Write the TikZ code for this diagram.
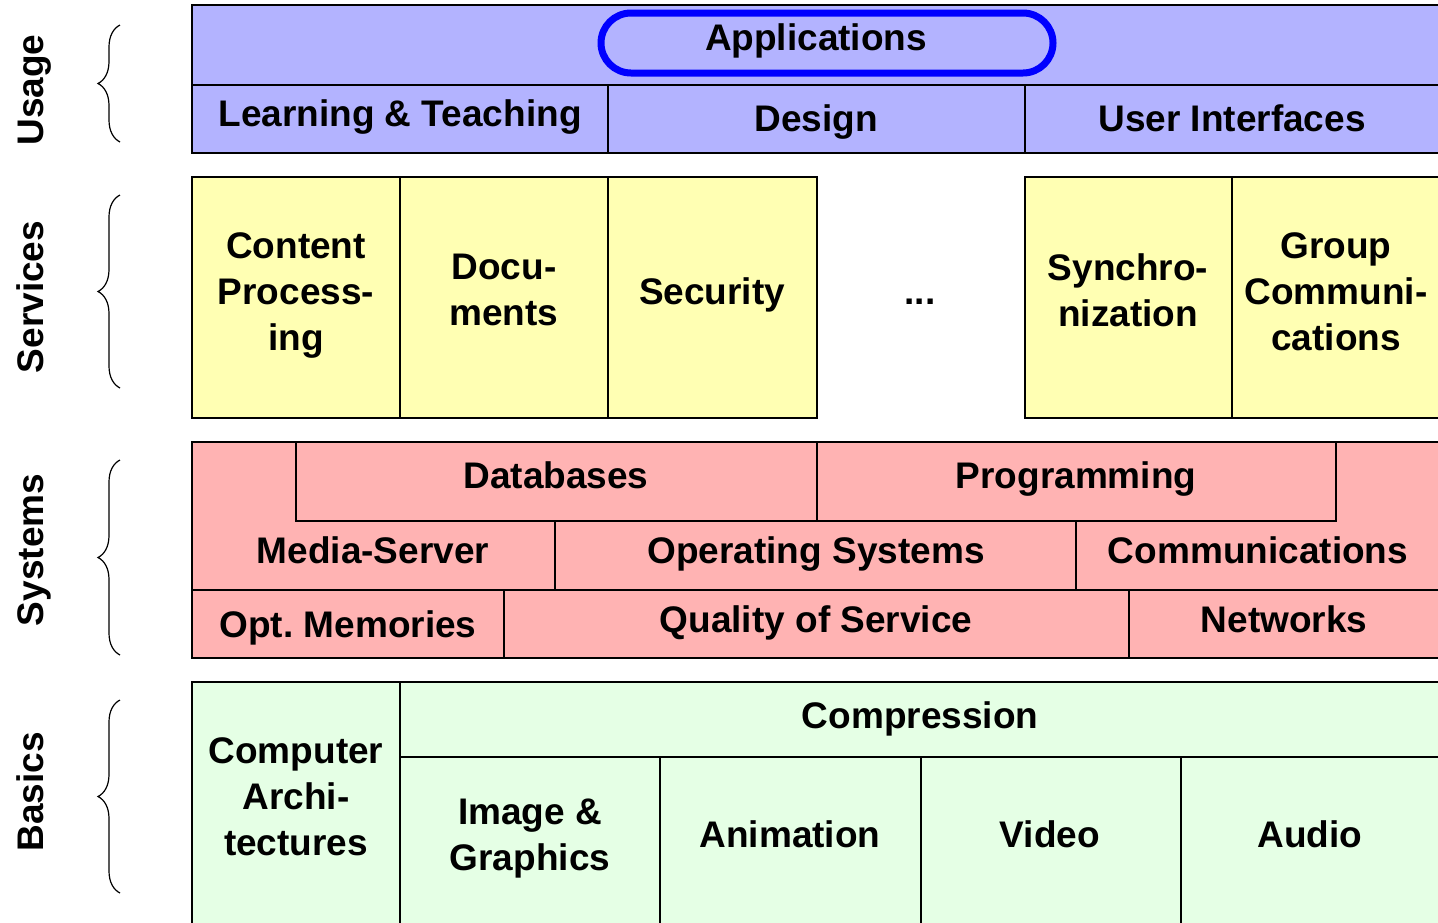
\documentclass[tikz,border=0pt]{standalone}
\usepackage{fontspec}
\setmainfont{Liberation Sans}
\usetikzlibrary{decorations.pathreplacing}
\definecolor{usagefill}{RGB}{179,179,255}
\definecolor{servfill}{RGB}{255,255,179}
\definecolor{sysfill}{RGB}{255,179,179}
\definecolor{basicfill}{RGB}{229,255,229}
\definecolor{appblue}{RGB}{0,0,255}
\frenchspacing
\begin{document}
\begin{tikzpicture}[x=0.5pt,y=-0.5pt,
  cell/.style={draw=black,line width=1.3pt},
  lbl/.style={font=\fontsize{18.5}{23}\selectfont\bfseries,align=center,inner sep=0pt},
  side/.style={lbl,rotate=90,anchor=base},
  curly/.style={decorate,decoration={brace,amplitude=11pt},line width=0.6pt}]
\useasboundingbox (0,0) rectangle (1438,922);
\clip (0,0) rectangle (1438,922);
% left side: layer names and braces
\node[side] (usage) at (43,90) {Usage};
\node[side] (services) at (43,297) {Services};
\node[side] (systems) at (43,550) {Systems};
\node[side] (basics) at (43,792) {Basics};
\draw[curly] (120,142) -- (120,25);
\draw[curly] (120,388) -- (120,195);
\draw[curly] (120,655) -- (120,460);
\draw[curly] (120,893) -- (120,700);
% usage
\draw[cell,fill=usagefill] (192,5) rectangle (1445,153);
\draw[cell] (192,85) -- (1445,85);
\draw[cell] (608,85) -- (608,153);
\draw[cell] (1025,85) -- (1025,153);
\draw[appblue,line width=3.5pt,rounded corners=15pt] (601,13) rectangle (1053,73);
\node[lbl,anchor=base] (apps) at (816,50) {Applications};
\node[lbl,anchor=base] (learn) at (400,126) {Learning \& Teaching};
\node[lbl,anchor=base] (design) at (816,131) {Design};
\node[lbl,anchor=base] (ui) at (1232,131) {User Interfaces};
% services
\draw[cell,fill=servfill] (192,177) rectangle (400,418);
\draw[cell,fill=servfill] (400,177) rectangle (608,418);
\draw[cell,fill=servfill] (608,177) rectangle (817,418);
\draw[cell,fill=servfill] (1025,177) rectangle (1232,418);
\draw[cell,fill=servfill] (1232,177) rectangle (1445,418);
\node[lbl] (content) at (296,295) {Content\\Process-\\ing};
\node[lbl] (docs) at (504,290) {Docu-\\ments};
\node[lbl,anchor=base] (security) at (712,304) {Security};
\node[lbl,anchor=base] (more) at (920,304) {...};
\node[lbl] (sync) at (1128,290) {Synchro-\\nization};
\node[lbl] (group) at (1336,292) {Group\\Communi-\\cations};
% systems
\draw[cell,fill=sysfill] (192,442) rectangle (1445,658);
\draw[cell] (296,442) rectangle (817,521);
\draw[cell] (817,442) rectangle (1336,521);
\draw[cell] (555,521) -- (555,590);
\draw[cell] (1076,521) -- (1076,590);
\draw[cell] (192,590) -- (1445,590);
\draw[cell] (504,590) -- (504,658);
\draw[cell] (1129,590) -- (1129,658);
\node[lbl,anchor=base] (db) at (556,488) {Databases};
\node[lbl,anchor=base] (prog) at (1076,488) {Programming};
\node[lbl,anchor=base] (media) at (373,563) {Media-Server};
\node[lbl,anchor=base] (os) at (816,563) {Operating Systems};
\node[lbl,anchor=base] (comm) at (1258,563) {Communications};
\node[lbl,anchor=base] (optmem) at (348,637) {Opt. Memories};
\node[lbl,anchor=base] (qos) at (816,632) {Quality of Service};
\node[lbl,anchor=base] (net) at (1284,632) {Networks};
% basics
\draw[cell,fill=basicfill] (192,682) rectangle (1445,930);
\draw[cell] (400,682) -- (400,930);
\draw[cell] (400,757) -- (1445,757);
\draw[cell] (660,757) -- (660,930);
\draw[cell] (921,757) -- (921,930);
\draw[cell] (1181,757) -- (1181,930);
\node[lbl] (arch) at (296,797) {Computer\\Archi-\\tectures};
\node[lbl] (image) at (530,839) {Image \&\\Graphics};
\node[lbl,anchor=base] (compr) at (920,728) {Compression};
\node[lbl,anchor=base] (anim) at (790,847) {Animation};
\node[lbl,anchor=base] (video) at (1050,847) {Video};
\node[lbl,anchor=base] (audio) at (1310,847) {Audio};
\end{tikzpicture}
\end{document}
